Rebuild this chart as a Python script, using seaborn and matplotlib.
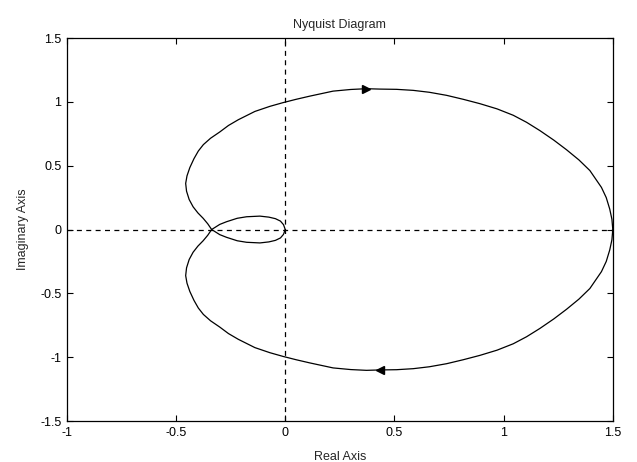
import matplotlib
matplotlib.use("Agg")
import matplotlib.pyplot as plt
import seaborn as sns
import pandas as pd

# Positive-frequency branch: from (1.5, 0) through the lower lobe, crossing, then upper small loop to origin
pos_re = [1.5, 1.496, 1.486, 1.47, 1.448, 1.395, 1.345, 1.288, 1.23, 1.166, 1.105, 1.044, 0.97,
          0.891, 0.815, 0.739, 0.66, 0.586, 0.51, 0.433, 0.372, 0.30,
          0.219, 0.113, 0.05, -0.01, -0.07, -0.139, -0.215, -0.26, -0.30, -0.342, -0.375, -0.398,
          -0.418, -0.437, -0.45, -0.456, -0.452, -0.44, -0.422, -0.40, -0.376, -0.355, -0.337,
          -0.30, -0.269, -0.22, -0.177, -0.116, -0.075, -0.045, -0.022, -0.008, 0.0]
pos_im = [0.0, -0.08, -0.16, -0.25, -0.33, -0.462, -0.545, -0.625, -0.70, -0.775, -0.84, -0.895, -0.945,
          -0.986, -1.02, -1.051, -1.075, -1.09, -1.098, -1.10, -1.103, -1.097,
          -1.084, -1.045, -1.02, -0.994, -0.965, -0.925, -0.86, -0.815, -0.764, -0.715, -0.665, -0.615,
          -0.555, -0.485, -0.42, -0.361, -0.30, -0.235, -0.178, -0.13, -0.088, -0.045, 0.0,
          0.04, 0.061, 0.088, 0.10, 0.105, 0.097, 0.085, 0.066, 0.038, 0.0]

neg_re = [1.5, 1.496, 1.486, 1.47, 1.448, 1.395, 1.345, 1.288, 1.23, 1.166, 1.105, 1.044, 0.97,
          0.891, 0.815, 0.739, 0.66, 0.586, 0.51, 0.433, 0.372, 0.30,
          0.219, 0.113, 0.05, -0.01, -0.07, -0.139, -0.215, -0.26, -0.30, -0.342, -0.375, -0.398,
          -0.418, -0.437, -0.45, -0.456, -0.452, -0.44, -0.422, -0.40, -0.376, -0.355, -0.337,
          -0.30, -0.269, -0.22, -0.177, -0.116, -0.075, -0.045, -0.022, -0.008, 0.0]
neg_im = [0.0, 0.08, 0.16, 0.25, 0.33, 0.462, 0.545, 0.625, 0.70, 0.775, 0.84, 0.895, 0.945,
          0.986, 1.02, 1.051, 1.075, 1.09, 1.098, 1.10, 1.103, 1.097,
          1.084, 1.045, 1.02, 0.994, 0.965, 0.925, 0.86, 0.815, 0.764, 0.715, 0.665, 0.615,
          0.555, 0.485, 0.42, 0.361, 0.30, 0.235, 0.178, 0.13, 0.088, 0.045, 0.0,
          -0.04, -0.061, -0.088, -0.10, -0.105, -0.097, -0.085, -0.066, -0.038, 0.0]

# Direction arrows
arrow_up_re, arrow_up_im = [0.372], [1.103]
arrow_dn_re, arrow_dn_im = [0.433], [-1.10]

x_ticks = [-1, -0.5, 0, 0.5, 1, 1.5]
x_ticklabels = ["-1", "-0.5", "0", "0.5", "1", "1.5"]
y_ticks = [-1.5, -1, -0.5, 0, 0.5, 1, 1.5]
y_ticklabels = ["-1.5", "-1", "-0.5", "0", "0.5", "1", "1.5"]

sns.set_style("white")
plt.rcParams['font.family'] = ['Liberation Sans', 'DejaVu Sans']
FS = 9

fig = plt.figure(figsize=(6.37, 4.62), dpi=100)
ax = fig.add_axes([0.105, 0.0887, 0.857, 0.829])

df_pos = pd.DataFrame({"re": pos_re, "im": pos_im})
df_neg = pd.DataFrame({"re": neg_re, "im": neg_im})

ax.axhline(0, color="black", lw=0.9, ls=(0, (4, 3.5)), zorder=1)
ax.axvline(0, color="black", lw=0.9, ls=(0, (4, 3.5)), zorder=1)

sns.lineplot(data=df_pos, x="re", y="im", sort=False, estimator=None, color="black", lw=0.9, ax=ax)
sns.lineplot(data=df_neg, x="re", y="im", sort=False, estimator=None, color="black", lw=0.9, ax=ax)

ax.plot(arrow_up_re, arrow_up_im, marker=">", color="black", ms=6, ls="none")
ax.plot(arrow_dn_re, arrow_dn_im, marker="<", color="black", ms=6, ls="none")

ax.set_xlim(-1, 1.5)
ax.set_ylim(-1.5, 1.5)
ax.set_xticks(x_ticks)
ax.set_xticklabels(x_ticklabels, fontsize=FS)
ax.set_yticks(y_ticks)
ax.set_yticklabels(y_ticklabels, fontsize=FS)
ax.tick_params(direction="in", length=4, width=0.8, top=True, right=True,
               bottom=True, left=True, color="black", labelcolor="black", pad=4)

for s in ax.spines.values():
    s.set_color("black")
    s.set_linewidth(0.9)
    s.set_visible(True)

ax.set_title("Nyquist Diagram", fontsize=FS, pad=7)
ax.set_xlabel("Real Axis", fontsize=FS, labelpad=9)
ax.set_ylabel("Imaginary Axis", fontsize=FS, labelpad=8)

fig.savefig("out.png", dpi=100)
